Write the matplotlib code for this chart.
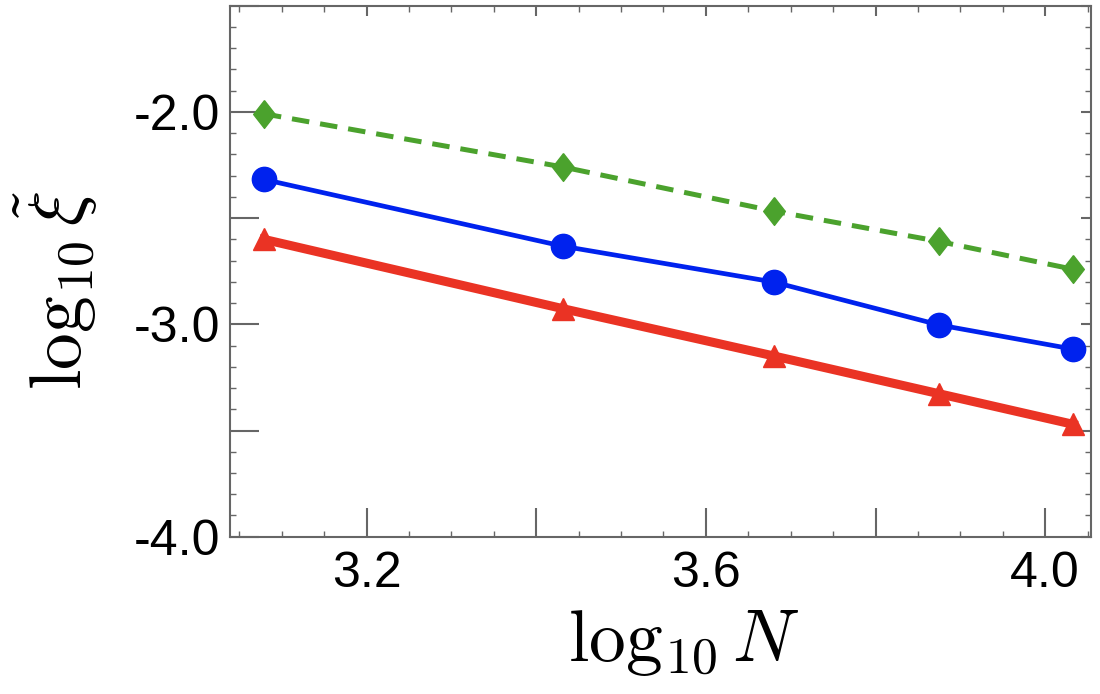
import matplotlib
matplotlib.use("Agg")
import matplotlib.pyplot as plt
from matplotlib.ticker import MultipleLocator, FixedLocator, NullFormatter, FixedFormatter

plt.rcParams['mathtext.fontset'] = 'cm'
plt.rcParams['font.family'] = ['Liberation Sans', 'DejaVu Sans']

log_N = [3.079, 3.431, 3.680, 3.875, 4.033]
green_vals = [-2.009, -2.259, -2.467, -2.610, -2.741]
blue_vals = [-2.318, -2.632, -2.801, -3.003, -3.117]
red_vals = [-2.600, -2.926, -3.149, -3.327, -3.471]

xticks_major = [3.2, 3.4, 3.6, 3.8, 4.0]
xtick_labels = ['3.2', '', '3.6', '', '4.0']
yticks_major = [-4.0, -3.5, -3.0, -2.5, -2.0, -1.5]
ytick_labels = ['-4.0', '', '-3.0', '', '-2.0', '']

fig = plt.figure(figsize=(11, 6.94), dpi=100)
ax = fig.add_axes([230/1100, 1 - 536.7/694, (1091-230)/1100, (536.7-5.7)/694])

green = '#4BA22D'
blue = '#0022EE'
red = '#EA3324'

diamond = [(0, 1), (0.78, 0), (0, -1), (-0.78, 0), (0, 1)]

ax.plot(log_N, green_vals, color=green, lw=3.6, ls=(0, (3.5, 2.2)), marker=diamond,
        markersize=20, zorder=3)
ax.plot(log_N, blue_vals, color=blue, lw=3.4, marker='o', markersize=17.5, zorder=3)
ax.plot(log_N, red_vals, color=red, lw=6.5, marker='^', markersize=15.5, zorder=3)

ax.set_xlim(3.039, 4.054)
ax.set_ylim(-4.0, -1.5)

ax.xaxis.set_major_locator(FixedLocator(xticks_major))
ax.xaxis.set_major_formatter(FixedFormatter(xtick_labels))
ax.xaxis.set_minor_locator(MultipleLocator(0.05))
ax.yaxis.set_major_locator(FixedLocator(yticks_major))
ax.yaxis.set_major_formatter(FixedFormatter(ytick_labels))
ax.yaxis.set_minor_locator(MultipleLocator(0.1))

tc = '#666666'
for s in ax.spines.values():
    s.set_color(tc)
    s.set_linewidth(1.5)

ax.tick_params(which='both', direction='in', colors=tc, labelcolor='black',
               labelsize=36, top=True, right=True)
ax.tick_params(which='major', length=21, width=1.5)
ax.tick_params(axis='x', which='major', pad=10)
ax.tick_params(axis='y', which='major', pad=7)
ax.tick_params(which='minor', length=4, width=1.0)
ax.tick_params(axis='x', which='major', top=False)
ax.tick_params(axis='y', which='major', right=False)
ax2 = ax.secondary_xaxis('top')
ax2.xaxis.set_major_locator(FixedLocator(xticks_major))
ax2.xaxis.set_major_formatter(NullFormatter())
ax2.tick_params(direction='in', length=7, width=1.5, colors=tc)
ax2.spines['top'].set_visible(False)
ay2 = ax.secondary_yaxis('right')
ay2.yaxis.set_major_locator(FixedLocator(yticks_major))
ay2.yaxis.set_major_formatter(NullFormatter())
ay2.tick_params(direction='in', length=7, width=1.5, colors=tc)
ay2.spines['right'].set_visible(False)

ax.set_xlabel(r'$\log_{10}N$', fontsize=53)
ax.xaxis.set_label_coords(0.527, -0.135)
ax.set_ylabel(r'$\log_{10}\tilde{\xi}$', fontsize=53)
ax.yaxis.set_label_coords(-0.151, 0.463)

fig.savefig('out.png', dpi=100)
